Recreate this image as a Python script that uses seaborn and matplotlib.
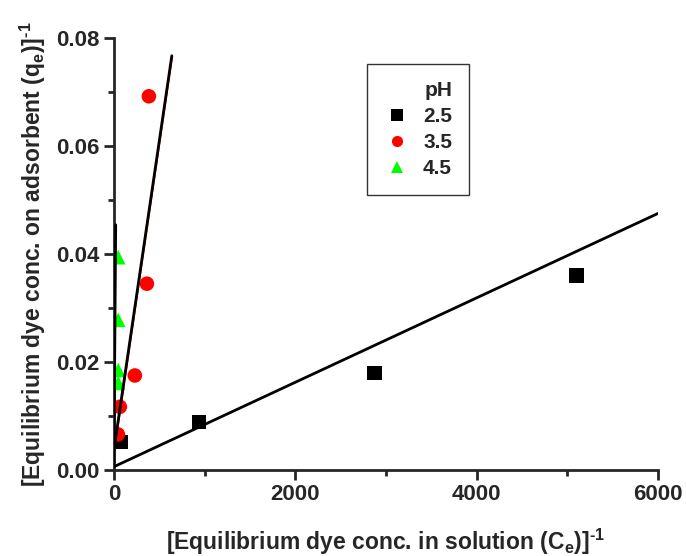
import seaborn as sns
import pandas as pd
import numpy as np
import matplotlib.pyplot as plt
import matplotlib.ticker as ticker
from matplotlib.lines import Line2D

# data: 1/Ce vs 1/qe for each pH
ph_levels=['2.5','3.5','4.5']

x_25=[77,937,2877,5105]
y_25=[0.0052,0.0089,0.0180,0.0360]

x_35=[44,66,231,364,386]
y_35=[0.0066,0.0117,0.0175,0.0345,0.0692]

x_45=[48,48,48,48]
y_45=[0.0161,0.0185,0.0278,0.0394]

# fitted lines (end points)
fit_x_25=[0,6000]
fit_y_25=[0.0006,0.0475]
fit_x_35=[0,639]
fit_y_35=[0.0037,0.0767]
fit_x_45=[0,20]
fit_y_45=[0.0006,0.0454]

colors={'2.5':'black','3.5':'#ff0000','4.5':'#00ff00'}
markers={'2.5':'s','3.5':'o','4.5':'^'}

df=pd.concat([
    pd.DataFrame({'x':x_25,'y':y_25,'pH':'2.5'}),
    pd.DataFrame({'x':x_35,'y':y_35,'pH':'3.5'}),
    pd.DataFrame({'x':x_45,'y':y_45,'pH':'4.5'}),
])
fits=pd.concat([
    pd.DataFrame({'x':fit_x_25,'y':fit_y_25,'pH':'2.5'}),
    pd.DataFrame({'x':fit_x_35,'y':fit_y_35,'pH':'3.5'}),
    pd.DataFrame({'x':fit_x_45,'y':fit_y_45,'pH':'4.5'}),
])

sns.set_style('ticks')
plt.rcParams['font.family']=['Liberation Sans','DejaVu Sans']
plt.rcParams['font.weight']='bold'
plt.rcParams['mathtext.fontset']='custom'
plt.rcParams['mathtext.rm']='Liberation Sans:bold'
plt.rcParams['mathtext.it']='Liberation Sans:bold'
plt.rcParams['mathtext.bf']='Liberation Sans:bold'

fig=plt.figure(figsize=(6.86,5.56),dpi=100)
ax=fig.add_axes([0.166,0.1547,0.793,0.777])

sns.scatterplot(data=df,x='x',y='y',hue='pH',style='pH',hue_order=ph_levels,
                palette=colors,markers=markers,s=110,linewidth=0,ax=ax,legend=False,zorder=3)
for ph in ph_levels:
    sub=fits[fits['pH']==ph]
    if ph=='3.5':
        # the fit for pH 3.5 shows a thin red edge under the black line
        ax.plot(sub['x']+4,sub['y'],color='#ff0000',lw=1.5,zorder=4)
    ax.plot(sub['x'],sub['y'],color='black',lw=2,zorder=4)

ax.set_xlim(0,6000)
ax.set_ylim(0,0.08)
ax.xaxis.set_major_locator(ticker.MultipleLocator(2000))
ax.xaxis.set_minor_locator(ticker.MultipleLocator(1000))
ax.yaxis.set_major_locator(ticker.MultipleLocator(0.02))
ax.yaxis.set_minor_locator(ticker.MultipleLocator(0.01))
ax.yaxis.set_major_formatter(ticker.FormatStrFormatter('%.2f'))
ax.tick_params(which='major',length=7,width=2,labelsize=16,pad=3)
ax.tick_params(which='minor',length=4,width=2)
for side in ['left','bottom']:
    ax.spines[side].set_linewidth(2)
sns.despine(ax=ax)

ax.set_xlabel('[Equilibrium dye conc. in solution (C$_e$)]$^{\\text{-1}}$',fontsize=16.5,fontweight='bold',labelpad=16)
ax.set_ylabel('[Equilibrium dye conc. on adsorbent (q$_e$)]$^{\\text{-1}}$',fontsize=16.5,fontweight='bold',labelpad=6)

handles=[Line2D([],[],ls='none',marker=markers[p],color=colors[p],markersize=8,markeredgewidth=0) for p in ph_levels]
leg=ax.legend(handles,ph_levels,title='pH',loc='upper left',bbox_to_anchor=(0.465,0.94),
              borderaxespad=0,frameon=True,fancybox=False,edgecolor='black',
              prop={'weight':'bold','size':15},title_fontproperties={'weight':'bold','size':15},
              handletextpad=0.6,borderpad=0.8,labelspacing=0.35,handlelength=1.3)
leg._legend_box.align='right'
leg.get_frame().set_linewidth(1)

fig.savefig('out.png',dpi=100)
